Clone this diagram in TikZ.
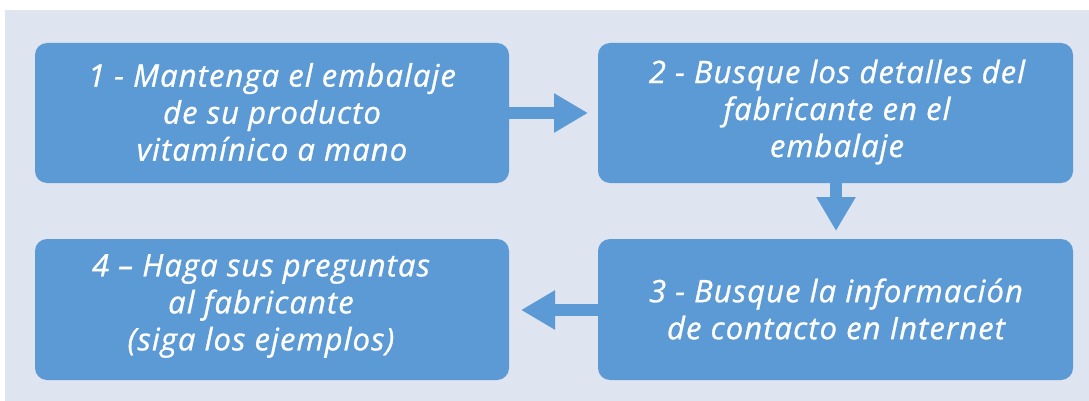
\documentclass[tikz,border=0pt]{standalone}
\usepackage{fontspec}
\setmainfont{Open Sans}[ItalicFeatures={FakeBold=0.9,LetterSpace=3.5}]
\usetikzlibrary{arrows.meta}
\definecolor{boxblue}{RGB}{91,154,212}
\definecolor{bgblue}{RGB}{222,228,240}
\tikzset{
  stepbox/.style={fill=boxblue, draw=none, rounded corners=12pt, text=white,
    font=\fontsize{31}{37}\selectfont\itshape, align=center, inner sep=0pt},
  flowarrow/.style={draw=boxblue, line width=12pt,
    -{Triangle[length=34pt,width=37pt]}}
}
\begin{document}
\begin{tikzpicture}[x=1pt,y=-1pt]
\useasboundingbox (0,0) rectangle (1089,401);
\fill[bgblue] (5,10) rectangle (1089,401);
% boxes
\path[stepbox] (35,43) rectangle (509,183);
\node[stepbox, fill=none] (b1) at (272,112) {1 - Mantenga el embalaje\\de su producto\\vitamínico a mano};
\path[stepbox] (598,43) rectangle (1073,183);
\node[stepbox, fill=none] (b2) at (837,112) {2 - Busque los detalles del\\fabricante en el\\embalaje};
\path[stepbox] (598,239) rectangle (1073,380);
\node[stepbox, fill=none] (b3) at (836,309) {3 - Busque la información\\de contacto en Internet};
\path[stepbox] (35,239) rectangle (509,380);
\node[stepbox, fill=none] (b4) at (261,306) {4 – Haga sus preguntas\\al fabricante\\(siga los ejemplos)};
% anchors on box edges
\coordinate (b1e) at (509,113);
\coordinate (b2w) at (598,113);
\coordinate (b2s) at (836,183);
\coordinate (b3n) at (836,239);
\coordinate (b3w) at (598,310);
\coordinate (b4e) at (509,310);
\draw[flowarrow, shorten >=10pt] (b1e) -- (b2w);
\draw[flowarrow, shorten >=8pt] (b2s) -- (b3n);
\draw[flowarrow, shorten >=12pt] (b3w) -- (b4e);
\end{tikzpicture}
\end{document}
